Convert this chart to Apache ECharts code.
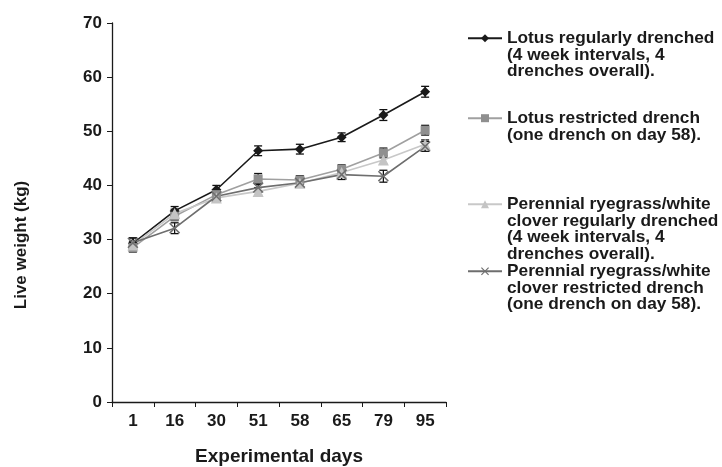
<!DOCTYPE html>
<html>
<head>
<meta charset="utf-8">
<script src="https://cdn.jsdelivr.net/npm/echarts@6/dist/echarts.min.js"></script>
<style>html,body{margin:0;padding:0;background:#fff}#c{width:722px;height:467px}</style>
</head>
<body>
<div id="c"></div>
<script>
var days = ['1', '16', '30', '51', '58', '65', '79', '95'];
var yTicks = [0, 10, 20, 30, 40, 50, 60, 70];

var lotusRegular = [29.3, 35.3, 39.2, 46.4, 46.7, 48.9, 53.0, 57.3];
var lotusRegularErr = [1.0, 0.8, 0.8, 0.9, 0.9, 0.8, 1.0, 1.0];
var lotusRestricted = [28.5, 34.3, 38.3, 41.2, 41.0, 43.0, 46.0, 50.2];
var lotusRestrictedErr = [0.8, 0.8, 0.8, 1.0, 0.8, 0.8, 0.9, 0.9];
var prgRegular = [29.0, 34.8, 37.7, 38.9, 40.4, 42.4, 44.7, 47.6];
var prgRegularErr = [0.7, 0.8, 0.7, 0.7, 0.7, 0.7, 0.8, 0.8];
var prgRestricted = [29.4, 32.1, 38.0, 39.6, 40.5, 42.0, 41.7, 47.2];
var prgRestrictedErr = [0.9, 1.0, 0.8, 0.8, 0.8, 0.9, 1.1, 0.9];

var names = [
  'Lotus regularly drenched\n(4 week intervals, 4\ndrenches overall).',
  'Lotus restricted drench\n(one drench on day 58).',
  'Perennial ryegrass/white\nclover regularly drenched\n(4 week intervals, 4\ndrenches overall).',
  'Perennial ryegrass/white\nclover restricted drench\n(one drench on day 58).'
];
var values = [lotusRegular, lotusRestricted, prgRegular, prgRestricted];
var errors = [lotusRegularErr, lotusRestrictedErr, prgRegularErr, prgRestrictedErr];
var colors = ['#1a1a1a', '#8f8f8f', '#c4c4c4', '#6e6e6e'];
var lineColors = ['#1a1a1a', '#a0a0a0', '#c8c8c8', '#6e6e6e'];
var symbols = ['diamond', 'rect',  'triangle',
  'path://M0,1 L1,0 L5,4 L9,0 L10,1 L6,5 L10,9 L9,10 L5,6 L1,10 L0,9 L4,5 Z'];
var symbolSizes = [10, 9, 11, 11];

var FONT = 'Liberation Sans, Arial, sans-serif';
var LH = 16.6;
var legendFirstLineY = [38, 118, 204, 271];

var series = [];
var legends = [];
values.forEach(function (vals, i) {
  var errs = errors[i];
  series.push({
    type: 'custom',
    name: names[i] + '_err',
    renderItem: function (params, api) {
      var idx = params.dataIndex;
      var x = api.coord([idx, 0])[0];
      var v = api.value(1), e = api.value(2);
      var top = api.coord([idx, v + e])[1];
      var bot = api.coord([idx, v - e])[1];
      var cap = 4;
      var st = { stroke: '#111', lineWidth: 1.3 };
      return {
        type: 'group',
        children: [
          { type: 'line', shape: { x1: x, y1: top, x2: x, y2: bot }, style: st },
          { type: 'line', shape: { x1: x - cap, y1: top, x2: x + cap, y2: top }, style: st },
          { type: 'line', shape: { x1: x - cap, y1: bot, x2: x + cap, y2: bot }, style: st }
        ]
      };
    },
    data: vals.map(function (v, k) { return [k, v, errs[k]]; }),
    z: 1,
    silent: true
  });
  series.push({
    type: 'line',
    name: names[i],
    data: vals,
    symbol: symbols[i],
    symbolSize: symbolSizes[i],
    showAllSymbol: true,
    lineStyle: { color: lineColors[i], width: 1.6 },
    itemStyle: { color: colors[i], borderWidth: 0 },
    z: 3
  });
  var n = names[i].split('\n').length;
  var pre = new Array(n).join('\n');
  legends.push({
    data: [names[i]],
    orient: 'vertical',
    left: 467,
    top: legendFirstLineY[i] - (n - 0.5) * LH,
    padding: 0,
    itemWidth: 34,
    itemHeight: 10,
    selectedMode: false,
    formatter: function (nm) { return pre + nm; },
    textStyle: {
      fontFamily: FONT, fontWeight: 'bold', fontSize: 17.3, color: '#1a1a1a',
      lineHeight: LH
    }
  });
});

var chart = echarts.init(document.getElementById('c'), null, { renderer: 'canvas' });
chart.setOption({
  backgroundColor: '#ffffff',
  animation: false,
  grid: { left: 112, right: 276, top: 23, bottom: 65, containLabel: false, outerBoundsMode: 'none' },
  legend: legends,
  xAxis: {
    type: 'category',
    data: days,
    boundaryGap: true,
    name: 'Experimental days',
    nameLocation: 'middle',
    nameGap: 45,
    nameTextStyle: { fontFamily: FONT, fontWeight: 'bold', fontSize: 19, color: '#1a1a1a' },
    axisLine: { lineStyle: { color: '#1a1a1a', width: 1.3 } },
    axisTick: { show: true, length: 5, alignWithLabel: false, lineStyle: { color: '#1a1a1a' } },
    axisLabel: { margin: 11, fontFamily: FONT, fontWeight: 'bold', fontSize: 17, color: '#1a1a1a' },
    splitLine: { show: false }
  },
  yAxis: {
    type: 'value',
    min: yTicks[0],
    max: yTicks[yTicks.length - 1],
    interval: 10,
    name: 'Live weight (kg)',
    nameLocation: 'middle',
    nameGap: 82,
    nameTextStyle: { fontFamily: FONT, fontWeight: 'bold', fontSize: 17, color: '#1a1a1a', padding: [0, 65, 0, 0] },
    axisLine: { show: true, lineStyle: { color: '#1a1a1a', width: 1.3 } },
    axisTick: { show: true, length: 5, inside: false, lineStyle: { color: '#1a1a1a' } },
    axisLabel: { margin: 10, fontFamily: FONT, fontWeight: 'bold', fontSize: 17, color: '#1a1a1a' },
    splitLine: { show: false }
  },
  series: series
});
</script>
</body>
</html>
